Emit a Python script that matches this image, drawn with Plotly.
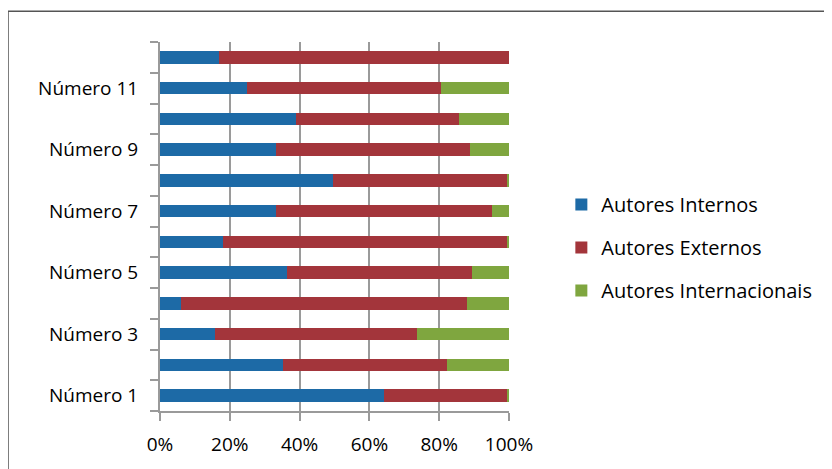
import plotly.graph_objects as go

categories = [f"Número {i}" for i in range(1, 13)]
tick_labels = [f"Número {i}" if i % 2 == 1 else "" for i in range(1, 13)]

internos = [64.2, 35.2, 15.8, 6.0, 36.5, 18.1, 33.1, 49.7, 33.1, 39.0, 24.9, 17.0]
externos = [35.3, 46.9, 57.9, 82.0, 52.9, 81.4, 61.9, 49.8, 55.7, 46.6, 55.6, 83.0]
internacionais = [0.5, 17.9, 26.3, 12.0, 10.6, 0.5, 5.0, 0.5, 11.2, 14.4, 19.5, 0.0]

series = [
    ("Autores Internos", internos, "#1d6aa6"),
    ("Autores Externos", externos, "#a3353b"),
    ("Autores Internacionais", internacionais, "#7fa63f"),
]

fig = go.Figure()
for i, (name, vals, color) in enumerate(series):
    fig.add_trace(go.Bar(
        y=categories, x=vals, name=name, orientation="h",
        marker=dict(color=color, line=dict(width=0)),
        legendgroup=f"g{i}",
    ))

font = "'Open Sans', sans-serif"
fig.update_layout(
    barmode="stack",
    barnorm="percent",
    bargap=0.6,
    width=824, height=461,
    margin=dict(l=152, r=323, t=34, b=56),
    paper_bgcolor="white", plot_bgcolor="white",
    font=dict(family=font, size=18, color="#000"),
    showlegend=True,
    legend=dict(
        x=1.15, y=0.443, xanchor="left", yanchor="middle",
        traceorder="grouped", tracegroupgap=14,
        font=dict(size=20, family=font),
        bgcolor="rgba(0,0,0,0)",
    ),
    xaxis=dict(
        range=[0, 100], tickvals=[0, 20, 40, 60, 80, 100],
        ticktext=["0%", "20%", "40%", "60%", "80%", "100%"],
        tickfont=dict(size=19),
        showgrid=True, gridcolor="#9a9a9a", gridwidth=2,
        showline=True, linecolor="#9a9a9a", linewidth=2,
        ticks="outside", ticklen=8, tickcolor="#9a9a9a", tickwidth=2,
        ticklabelstandoff=7, zeroline=False,
    ),
    yaxis=dict(
        categoryorder="array", categoryarray=categories,
        tickvals=categories, ticktext=tick_labels,
        tickfont=dict(size=19),
        tickson="boundaries", ticks="outside", ticklen=8,
        tickcolor="#9a9a9a", tickwidth=2,
        showline=True, linecolor="#9a9a9a", linewidth=2,
        showgrid=False, range=[-0.5, 11.5],
        ticklabelstandoff=16,
    ),
    shapes=[dict(
        type="rect", xref="paper", yref="paper",
        x0=-0.4355, x1=1.917, y0=-0.2, y1=1.0836,
        line=dict(color="#555", width=1.5), layer="below",
    )],
)

fig.write_html("out.html")
